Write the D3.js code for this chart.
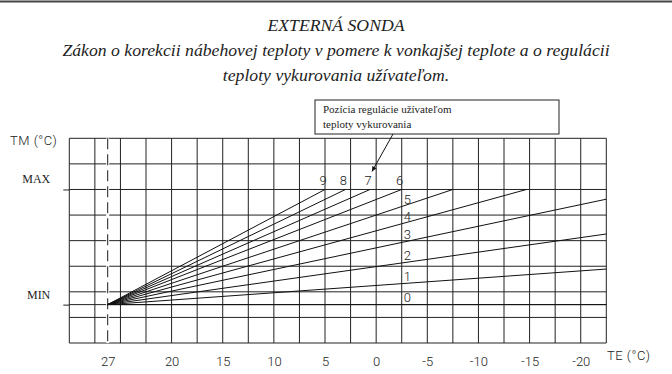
<!DOCTYPE html>
<html>
<head>
<meta charset="utf-8">
<script src="https://cdn.jsdelivr.net/npm/d3@7"></script>
<style>
  html, body { margin: 0; padding: 0; background: #fff; overflow: hidden; }
  svg { display: block; }
  .title { font-family: "Liberation Serif", serif; font-style: italic; fill: #222; }
  .serif { font-family: "Liberation Serif", serif; font-size: 12px; fill: #222; }
  .tech { font-family: Roboto, "DejaVu Sans", sans-serif; font-weight: 300; font-size: 13px; fill: #222; }
</style>
</head>
<body>
<div id="chart"></div>
<script>
const width = 672;
const height = 374;
const margin = { top: 138.3, right: 65.7, bottom: 31, left: 69.3 };

// chart data
const titleLines = [
    "EXTERNÁ SONDA",
    "Zákon o korekcii nábehovej teploty v pomere k vonkajšej teplote a o regulácii",
    "teploty vykurovania užívateľom."
];
const calloutLines = ["Pozícia regulácie užívateľom", "teploty vykurovania"];
const teTicks = [27, 20, 15, 10, 5, 0, -5, -10, -15, -20];
const tmTickLabels = ["MIN", "MAX"];
const tmMin = 1.5;   // grid rows from the bottom
const tmMax = 6;
const tmGrid = [0, 1, 1.5, 2, 3, 4, 5, 6, 7, 8];
const curveIds = [0, 1, 2, 3, 4, 5, 6, 7, 8, 9];
const curveEndTE = [-22.5, -22.5, -22.5, -22.5, -14.7, -7.5, -2.5, 0.6, 3.0, 5];
const curveEndTM = [1.5, 2.89, 4.26, 5.62, 6, 6, 6, 6, 6, 6];
const curveStartTE = 27;
const labelTE = -2.5; // where labels 0-5 sit

const innerWidth = width - margin.left - margin.right;
const innerHeight = height - margin.top - margin.bottom;
const nCols = 21;
const nRows = 8;

const svg = d3.select("#chart")
    .append("svg")
    .attr("width", width)
    .attr("height", height);

// top rule
svg.append("line")
    .attr("x1", 0).attr("x2", width)
    .attr("y1", 1.5).attr("y2", 1.5)
    .attr("stroke", "#444")
    .attr("stroke-width", 2);

// titles
svg.selectAll(".title")
    .data(titleLines)
    .enter()
    .append("text")
    .attr("class", "title")
    .attr("x", width / 2)
    .attr("y", (d, i) => 31 + i * 25)
    .attr("text-anchor", "middle")
    .style("font-size", "17.7px")
    .text(d => d);

const g = svg.append("g")
    .attr("transform", `translate(${margin.left},${margin.top})`);

const col = d3.scaleLinear().domain([0, nCols]).range([0, innerWidth]);
// schematic TE axis: 27 sits 1.5 columns in, then 2.5 °C per column from 20 onwards
const x = d3.scaleLinear()
    .domain([31.2, 20, -22.5])
    .range([col(0), col(4), col(nCols)]);
const y = d3.scaleLinear().domain([0, nRows]).range([innerHeight, 0]);

// grid
g.selectAll(".vgrid")
    .data(d3.range(nCols + 1))
    .enter()
    .append("line")
    .attr("class", "vgrid")
    .attr("x1", d => col(d)).attr("x2", d => col(d))
    .attr("y1", 0).attr("y2", innerHeight)
    .attr("stroke", "#222")
    .attr("stroke-width", 1);

g.selectAll(".hgrid")
    .data(tmGrid)
    .enter()
    .append("line")
    .attr("class", "hgrid")
    .attr("x1", 0).attr("x2", innerWidth)
    .attr("y1", d => y(d)).attr("y2", d => y(d))
    .attr("stroke", "#222")
    .attr("stroke-width", 1);

// dashed line at 27
g.append("line")
    .attr("x1", x(curveStartTE)).attr("x2", x(curveStartTE))
    .attr("y1", 0).attr("y2", innerHeight)
    .attr("stroke", "#fff")
    .attr("stroke-width", 3);
g.append("line")
    .attr("x1", x(curveStartTE)).attr("x2", x(curveStartTE))
    .attr("y1", 0).attr("y2", innerHeight)
    .attr("stroke", "#333")
    .attr("stroke-width", 1.1)
    .attr("stroke-dasharray", "11,5");

// left axis: MIN / MAX
const yAxis = g.append("g")
    .call(d3.axisLeft(y)
        .tickValues([tmMin, tmMax])
        .tickSize(6)
        .tickPadding(13)
        .tickFormat((d, i) => tmTickLabels[i]));
yAxis.attr("font-family", null).attr("font-size", null);
yAxis.select(".domain").remove();
yAxis.selectAll(".tick line").attr("stroke", "#222");
yAxis.selectAll(".tick text")
    .attr("class", "serif")
    .attr("dy", "-0.55em");

// bottom axis: TE
const xAxis = g.append("g")
    .attr("transform", `translate(0,${innerHeight})`)
    .call(d3.axisBottom(x)
        .tickValues(teTicks)
        .tickSize(0)
        .tickPadding(14)
        .tickFormat(d => String(d)));
xAxis.attr("font-family", null).attr("font-size", null);
xAxis.select(".domain").remove();
xAxis.selectAll(".tick text").attr("class", "tech");

// axis titles
svg.append("text")
    .attr("class", "tech")
    .attr("x", 10)
    .attr("y", 145)
    .style("letter-spacing", "0.5px")
    .text("TM (°C)");

svg.append("text")
    .attr("class", "tech")
    .attr("x", 607)
    .attr("y", 360)
    .style("letter-spacing", "0.5px")
    .text("TE (°C)");

// curves
const line = d3.line().x(d => x(d[0])).y(d => y(d[1]));
const curves = curveIds.map((id, i) => ({
    id: id,
    pts: [[curveStartTE, tmMin], [curveEndTE[i], curveEndTM[i]]]
}));

g.selectAll(".curve")
    .data(curves)
    .enter()
    .append("path")
    .attr("class", "curve")
    .attr("d", d => line(d.pts))
    .attr("fill", "none")
    .attr("stroke", "#111")
    .attr("stroke-width", 1);

// curve labels
function tmAt(d, te) {
    const [a, b] = d.pts;
    const t = (x(te) - x(a[0])) / (x(b[0]) - x(a[0]));
    return a[1] + t * (b[1] - a[1]);
}
g.selectAll(".clabel")
    .data(curves)
    .enter()
    .append("text")
    .attr("class", "tech")
    .attr("text-anchor", d => d.id >= 6 ? "middle" : "start")
    .attr("x", d => d.id >= 6 ? x(d.pts[1][0]) - 2 : x(labelTE) + 2)
    .attr("y", d => d.id >= 6 ? y(tmMax) - 4 : y(tmAt(d, labelTE)) - 3)
    .text(d => d.id);

// callout box
const box = { x: 315, y: 100, w: 244, h: 34 };
svg.append("rect")
    .attr("x", box.x).attr("y", box.y)
    .attr("width", box.w).attr("height", box.h)
    .attr("fill", "#fff")
    .attr("stroke", "#222")
    .attr("stroke-width", 1);
svg.selectAll(".callout")
    .data(calloutLines)
    .enter()
    .append("text")
    .attr("class", "serif")
    .attr("x", box.x + 8)
    .attr("y", (d, i) => box.y + 13 + i * 15)
    .style("font-size", "11px")
    .text(d => d);

svg.append("defs").append("marker")
    .attr("id", "arrow")
    .attr("viewBox", "0 0 10 10")
    .attr("refX", 10).attr("refY", 5)
    .attr("markerWidth", 7).attr("markerHeight", 5)
    .attr("orient", "auto")
    .append("path")
    .attr("d", "M0,0L10,5L0,10z")
    .attr("fill", "#111");

const tip = [margin.left + x(curveEndTE[7]) + 2, margin.top + y(tmMax) - 18];
svg.append("line")
    .attr("x1", box.x + 78).attr("y1", box.y + box.h)
    .attr("x2", tip[0]).attr("y2", tip[1])
    .attr("stroke", "#111")
    .attr("stroke-width", 1)
    .attr("marker-end", "url(#arrow)");
</script>
</body>
</html>
